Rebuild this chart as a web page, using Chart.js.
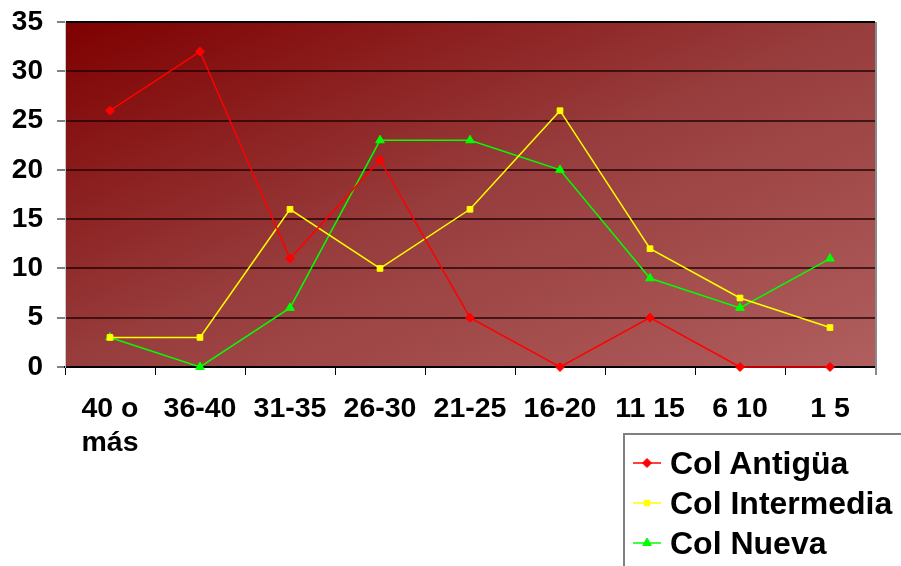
<!DOCTYPE html>
<html>
<head>
<meta charset="utf-8">
<script src="https://cdn.jsdelivr.net/npm/chart.js@4"></script>
<style>
  body { margin: 0; background: #fff; overflow: hidden; }
  #wrap { position: relative; width: 901px; height: 566px; }
  #legend {
    position: absolute; left: 623px; top: 433px; width: 300px; height: 150px;
    border: 2px solid #808080; background: #fff; box-sizing: border-box;
    font: bold 32px "Liberation Sans", Arial, sans-serif;
  }
  .lg-row { position: absolute; left: 8px; height: 40px; display: flex; align-items: center; }
  .lg-row canvas { margin-right: 9px; }
</style>
</head>
<body>
<div id="wrap">
  <canvas id="chart" width="901" height="566"></canvas>
  <div id="legend"></div>
</div>
<script>
const categories = [['40 o', 'más'], '36-40', '31-35', '26-30', '21-25', '16-20', '11 15', '6 10', '1 5'];
const colAntigua = [26, 32, 11, 21, 5, 0, 5, 0, 0];
const colIntermedia = [3, 3, 16, 10, 16, 26, 12, 7, 4];
const colNueva = [3, 0, 6, 23, 23, 20, 9, 6, 11];
const yTicks = [0, 5, 10, 15, 20, 25, 30, 35];

const FONT = '"Liberation Sans", Arial, sans-serif';

const series = [
  { label: 'Col Antigüa', data: colAntigua, color: '#ff0000', style: 'rectRot', r: 4.5 },
  { label: 'Col Intermedia', data: colIntermedia, color: '#ffff00', style: 'rect', r: 4 },
  { label: 'Col Nueva', data: colNueva, color: '#00ff00', style: 'triangle', r: 5 }
];

// plot background: corner-to-corner diagonal gradient + right border
const plotBg = {
  id: 'plotBg',
  beforeDraw(chart) {
    const { ctx, chartArea: a } = chart;
    const w = a.right - a.left, h = a.bottom - a.top;
    const k = 2 * w * h / (w * w + h * h);
    const g = ctx.createLinearGradient(a.left, a.top, a.left + h * k, a.top + w * k);
    g.addColorStop(0, '#7f0000');
    g.addColorStop(0.5, '#983d3d');
    g.addColorStop(1, '#b05e5e');
    ctx.save();
    ctx.fillStyle = g;
    ctx.fillRect(a.left, a.top, w, h);
    ctx.restore();
  },
  afterDraw(chart) {
    const { ctx, chartArea: a } = chart;
    ctx.save();
    ctx.strokeStyle = '#8a8a8a';
    ctx.lineWidth = 2;
    ctx.beginPath();
    ctx.moveTo(a.right + 1, a.top);
    ctx.lineTo(a.right + 1, a.bottom + 8);
    ctx.stroke();
    ctx.restore();
  }
};

const chart = new Chart(document.getElementById('chart'), {
  type: 'line',
  data: {
    labels: categories,
    datasets: series.map(s => ({
      label: s.label,
      data: s.data,
      borderColor: s.color,
      backgroundColor: s.color,
      borderWidth: 1.5,
      pointStyle: s.style,
      pointRadius: s.r,
      pointBorderWidth: 1,
      tension: 0,
      clip: false
    }))
  },
  options: {
    responsive: false,
    animation: false,
    layout: { padding: { top: 22, right: 26 } },
    plugins: { legend: { display: false }, tooltip: { enabled: false } },
    scales: {
      x: {
        offset: true,
        grid: { offset: true, drawOnChartArea: false, color: '#000', tickLength: 8 },
        border: { color: '#000', width: 2 },
        ticks: {
          color: '#000', padding: 17, maxRotation: 0, autoSkip: false,
          font: { family: FONT, size: 28.5, weight: 'bold', lineHeight: 1.2 }
        },
        afterFit(s) { s.height = 199; s.paddingLeft = 0; s.paddingRight = 0; }
      },
      y: {
        min: 0, max: 35,
        afterBuildTicks(s) { s.ticks = yTicks.map(v => ({ value: v })); },
        grid: {
          color: c => c.tick && c.tick.value === 35 ? '#000' : 'rgba(30,0,0,0.7)',
          lineWidth: 2,
          tickColor: '#808080',
          tickLength: 8
        },
        border: { color: '#c8c8c8', width: 1 },
        ticks: {
          color: '#000', padding: 14,
          font: { family: FONT, size: 28, weight: 'bold' }
        },
        afterFit(s) { s.width = 65; s.paddingTop = 0; s.paddingBottom = 0; }
      }
    }
  },
  plugins: [plotBg]
});

// legend box built from the datasets
const legend = document.getElementById('legend');
chart.data.datasets.forEach((ds, i) => {
  const row = document.createElement('div');
  row.className = 'lg-row';
  row.style.top = (8 + i * 40) + 'px';
  const sw = document.createElement('canvas');
  sw.width = 28; sw.height = 20;
  const c = sw.getContext('2d');
  c.strokeStyle = ds.borderColor; c.lineWidth = 1.5;
  c.beginPath(); c.moveTo(0, 10); c.lineTo(28, 10); c.stroke();
  c.fillStyle = ds.backgroundColor; c.strokeStyle = ds.borderColor; c.lineWidth = 1;
  Chart.helpers.drawPoint(c, { pointStyle: ds.pointStyle, radius: ds.pointRadius, borderWidth: 1 }, 14, 10);
  row.appendChild(sw);
  const t = document.createElement('span');
  t.textContent = ds.label;
  row.appendChild(t);
  legend.appendChild(row);
});
</script>
</body>
</html>
